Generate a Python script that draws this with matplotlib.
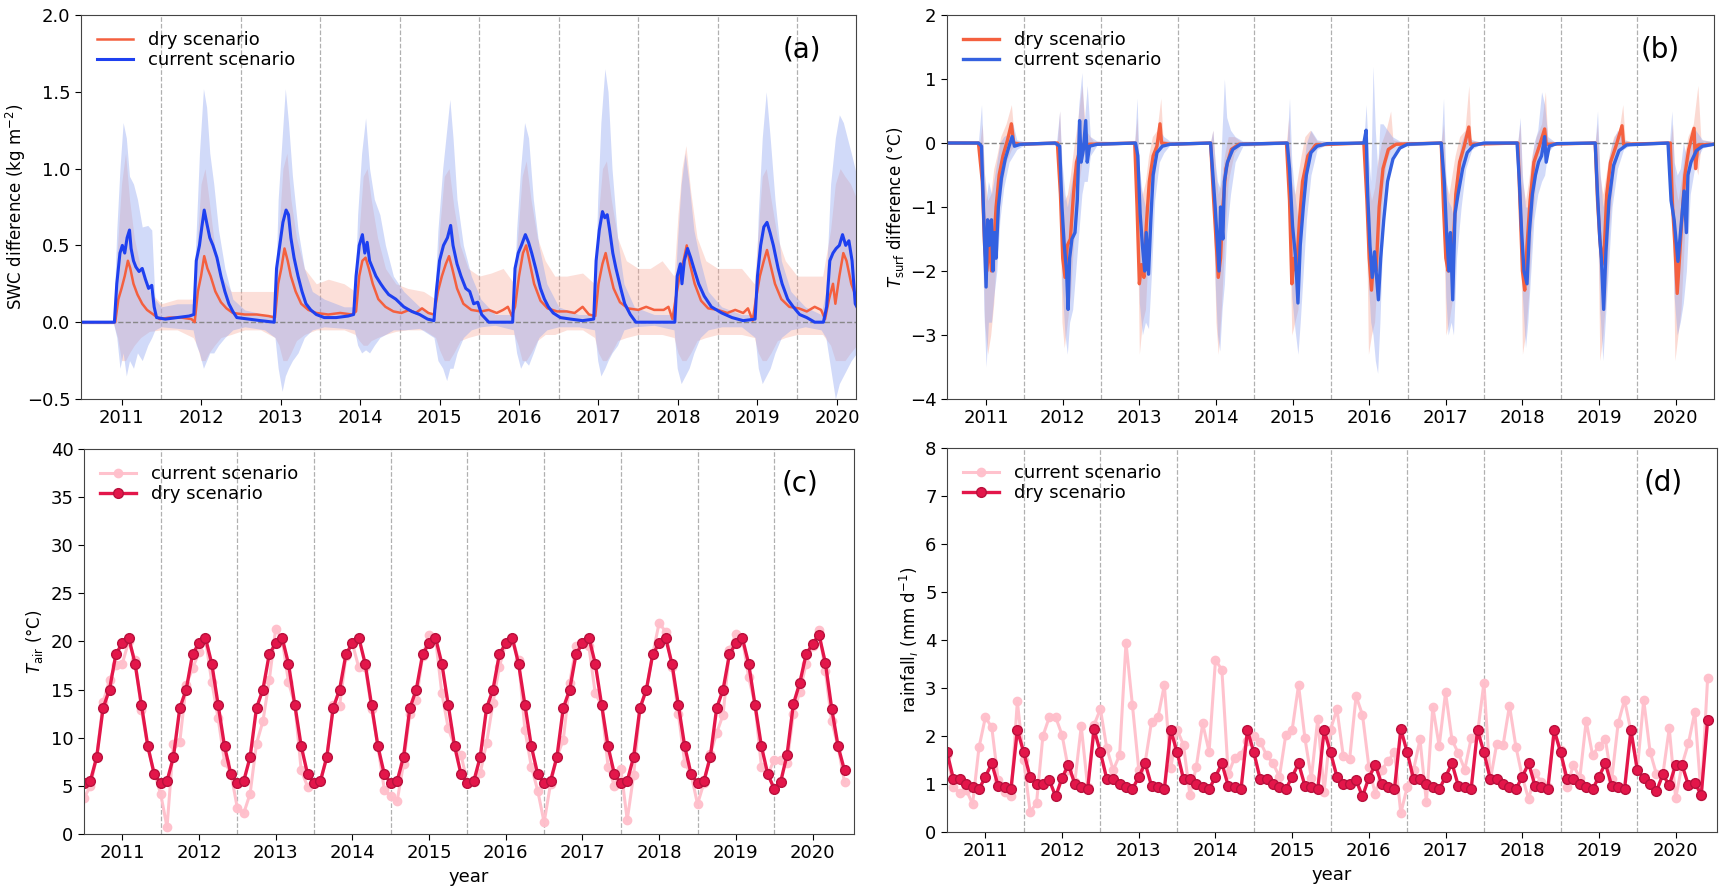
import numpy as np
import pandas as pd
import matplotlib
matplotlib.use("Agg")
import matplotlib.pyplot as plt

# ---------------- panel (a): SWC difference, key points
swc_cur_t = [2010.50, 2010.91, 2010.94, 2010.98, 2011.01, 2011.04, 2011.07, 2011.10, 2011.12, 2011.15,
             2011.18, 2011.22, 2011.26, 2011.30, 2011.34, 2011.38, 2011.41, 2011.44, 2011.55, 2011.70,
             2011.85, 2011.91, 2011.94, 2011.98, 2012.01, 2012.04, 2012.07, 2012.11, 2012.15, 2012.20,
             2012.25, 2012.30, 2012.35, 2012.40, 2012.45, 2012.60, 2012.75, 2012.92, 2012.95, 2012.99,
             2013.03, 2013.07, 2013.10, 2013.13, 2013.17, 2013.22, 2013.27, 2013.32, 2013.38, 2013.45,
             2013.55, 2013.70, 2013.85, 2013.92, 2013.95, 2013.99, 2014.03, 2014.06, 2014.09, 2014.12,
             2014.16, 2014.20, 2014.26, 2014.30, 2014.36, 2014.45, 2014.55, 2014.65, 2014.75, 2014.85,
             2014.93, 2014.96, 2015.00, 2015.05, 2015.10, 2015.14, 2015.17, 2015.22, 2015.27, 2015.33,
             2015.38, 2015.43, 2015.48, 2015.53, 2015.62, 2015.80, 2015.92, 2015.95, 2015.99, 2016.03,
             2016.08, 2016.12, 2016.16, 2016.21, 2016.27, 2016.32, 2016.37, 2016.43, 2016.52, 2016.65,
             2016.80, 2016.94, 2016.97, 2017.01, 2017.05, 2017.08, 2017.11, 2017.14, 2017.18, 2017.22,
             2017.28, 2017.33, 2017.40, 2017.47, 2017.70, 2017.96, 2017.99, 2018.03, 2018.05, 2018.08,
             2018.12, 2018.16, 2018.20, 2018.26, 2018.33, 2018.42, 2018.55, 2018.68, 2018.82, 2018.97,
             2019.00, 2019.04, 2019.08, 2019.12, 2019.16, 2019.20, 2019.26, 2019.31, 2019.38, 2019.45,
             2019.53, 2019.62, 2019.72, 2019.83, 2019.87, 2019.91, 2019.95, 2019.99, 2020.03, 2020.07,
             2020.11, 2020.15, 2020.19, 2020.23, 2020.25]
swc_cur_v = [0.00, 0.00, 0.25, 0.45, 0.50, 0.45, 0.55, 0.60, 0.48, 0.40,
             0.36, 0.33, 0.35, 0.28, 0.22, 0.24, 0.10, 0.03, 0.02, 0.03,
             0.04, 0.05, 0.40, 0.50, 0.62, 0.73, 0.65, 0.55, 0.50, 0.42,
             0.30, 0.20, 0.12, 0.07, 0.03, 0.02, 0.01, 0.00, 0.35, 0.50,
             0.65, 0.73, 0.70, 0.55, 0.42, 0.30, 0.20, 0.12, 0.08, 0.05,
             0.03, 0.03, 0.04, 0.05, 0.30, 0.50, 0.57, 0.45, 0.52, 0.40,
             0.35, 0.30, 0.25, 0.22, 0.18, 0.15, 0.10, 0.07, 0.05, 0.02,
             0.01, 0.20, 0.40, 0.50, 0.55, 0.63, 0.50, 0.38, 0.30, 0.22,
             0.20, 0.12, 0.13, 0.05, 0.00, 0.00, 0.00, 0.35, 0.45, 0.50,
             0.57, 0.52, 0.45, 0.35, 0.22, 0.15, 0.10, 0.06, 0.03, 0.02,
             0.01, 0.02, 0.40, 0.60, 0.72, 0.68, 0.70, 0.60, 0.45, 0.35,
             0.22, 0.12, 0.05, 0.00, 0.00, 0.00, 0.30, 0.38, 0.25, 0.40,
             0.48, 0.42, 0.35, 0.25, 0.17, 0.10, 0.06, 0.03, 0.01, 0.02,
             0.30, 0.50, 0.62, 0.65, 0.58, 0.50, 0.35, 0.25, 0.15, 0.10,
             0.05, 0.03, 0.00, 0.00, 0.10, 0.40, 0.45, 0.48, 0.50, 0.57,
             0.50, 0.53, 0.40, 0.12, 0.10]

swc_dry_t = [2010.50, 2010.92, 2010.96, 2011.00, 2011.04, 2011.08, 2011.11, 2011.15, 2011.20, 2011.26,
             2011.32, 2011.40, 2011.48, 2011.60, 2011.75, 2011.88, 2011.92, 2011.96, 2012.00, 2012.04,
             2012.08, 2012.12, 2012.18, 2012.25, 2012.32, 2012.40, 2012.55, 2012.70, 2012.85, 2012.93,
             2012.97, 2013.01, 2013.05, 2013.09, 2013.13, 2013.19, 2013.26, 2013.35, 2013.45, 2013.60,
             2013.75, 2013.90, 2013.95, 2013.99, 2014.03, 2014.07, 2014.11, 2014.16, 2014.23, 2014.32,
             2014.42, 2014.52, 2014.62, 2014.70, 2014.78, 2014.86, 2014.93, 2014.98, 2015.03, 2015.08,
             2015.12, 2015.16, 2015.22, 2015.30, 2015.40, 2015.52, 2015.62, 2015.72, 2015.80, 2015.86,
             2015.91, 2015.95, 2016.00, 2016.05, 2016.09, 2016.13, 2016.19, 2016.27, 2016.36, 2016.48,
             2016.60, 2016.70, 2016.80, 2016.88, 2016.96, 2017.00, 2017.05, 2017.09, 2017.13, 2017.19,
             2017.27, 2017.37, 2017.50, 2017.60, 2017.70, 2017.82, 2017.88, 2017.93, 2017.97, 2018.02,
             2018.07, 2018.11, 2018.15, 2018.21, 2018.29, 2018.38, 2018.50, 2018.62, 2018.72, 2018.82,
             2018.88, 2018.94, 2018.98, 2019.03, 2019.08, 2019.12, 2019.16, 2019.22, 2019.30, 2019.40,
             2019.52, 2019.62, 2019.72, 2019.80, 2019.85, 2019.90, 2019.95, 2019.98, 2020.03, 2020.08,
             2020.12, 2020.18, 2020.25]
swc_dry_v = [0.00, 0.00, 0.15, 0.22, 0.30, 0.40, 0.35, 0.25, 0.18, 0.12,
             0.08, 0.05, 0.02, 0.03, 0.03, 0.02, 0.00, 0.20, 0.30, 0.43,
             0.35, 0.30, 0.20, 0.13, 0.09, 0.06, 0.05, 0.05, 0.04, 0.03,
             0.25, 0.35, 0.48, 0.40, 0.30, 0.20, 0.12, 0.08, 0.06, 0.05,
             0.06, 0.05, 0.07, 0.30, 0.40, 0.42, 0.35, 0.25, 0.15, 0.10,
             0.07, 0.06, 0.08, 0.06, 0.09, 0.06, 0.05, 0.20, 0.30, 0.38,
             0.43, 0.35, 0.22, 0.12, 0.08, 0.07, 0.08, 0.06, 0.08, 0.10,
             0.04, 0.10, 0.30, 0.45, 0.50, 0.40, 0.25, 0.14, 0.09, 0.07,
             0.07, 0.06, 0.10, 0.05, 0.04, 0.25, 0.38, 0.45, 0.35, 0.22,
             0.13, 0.09, 0.08, 0.10, 0.08, 0.08, 0.10, 0.02, 0.15, 0.30,
             0.40, 0.50, 0.38, 0.25, 0.14, 0.09, 0.08, 0.06, 0.08, 0.06,
             0.09, 0.01, 0.15, 0.30, 0.40, 0.47, 0.38, 0.25, 0.15, 0.10,
             0.09, 0.07, 0.10, 0.08, 0.02, 0.15, 0.25, 0.12, 0.30, 0.45,
             0.40, 0.25, 0.15]

swc_cur_band_t = [2010.50, 2010.90, 2010.94, 2010.98, 2011.02, 2011.06, 2011.10, 2011.15, 2011.20, 2011.26,
                  2011.33, 2011.38, 2011.42, 2011.50, 2011.70, 2011.90, 2011.94, 2011.98, 2012.03, 2012.07,
                  2012.11, 2012.16, 2012.22, 2012.30, 2012.40, 2012.55, 2012.80, 2012.93, 2012.97, 2013.02,
                  2013.06, 2013.10, 2013.15, 2013.22, 2013.30, 2013.40, 2013.55, 2013.80, 2013.93, 2013.97,
                  2014.02, 2014.07, 2014.12, 2014.18, 2014.25, 2014.32, 2014.42, 2014.55, 2014.75, 2014.93,
                  2014.98, 2015.04, 2015.09, 2015.13, 2015.17, 2015.22, 2015.30, 2015.40, 2015.52, 2015.70,
                  2015.93, 2015.97, 2016.02, 2016.07, 2016.12, 2016.18, 2016.25, 2016.35, 2016.50, 2016.75,
                  2016.95, 2016.99, 2017.03, 2017.08, 2017.12, 2017.17, 2017.24, 2017.32, 2017.45, 2017.70,
                  2017.95, 2017.99, 2018.04, 2018.09, 2018.14, 2018.20, 2018.28, 2018.38, 2018.55, 2018.80,
                  2018.97, 2019.01, 2019.06, 2019.11, 2019.16, 2019.22, 2019.30, 2019.42, 2019.60, 2019.80,
                  2019.86, 2019.92, 2019.98, 2020.03, 2020.08, 2020.13, 2020.18, 2020.25]
swc_cur_hi = [0.01, 0.01, 0.60, 1.00, 1.30, 1.20, 0.95, 0.90, 0.80, 0.62,
              0.63, 0.60, 0.15, 0.10, 0.12, 0.12, 0.60, 1.10, 1.52, 1.40,
              1.10, 0.90, 0.60, 0.35, 0.15, 0.08, 0.05, 0.05, 0.80, 1.20,
              1.52, 1.30, 0.95, 0.60, 0.35, 0.20, 0.15, 0.10, 0.10, 0.70,
              1.10, 1.33, 1.00, 0.80, 0.70, 0.50, 0.30, 0.20, 0.10, 0.05,
              0.60, 1.00, 1.25, 1.45, 1.20, 0.80, 0.50, 0.30, 0.15, 0.05,
              0.05, 0.60, 1.00, 1.30, 1.20, 0.80, 0.50, 0.25, 0.10, 0.05,
              0.05, 0.80, 1.30, 1.65, 1.50, 1.00, 0.55, 0.25, 0.10, 0.05,
              0.05, 0.50, 0.90, 1.10, 0.90, 0.60, 0.40, 0.20, 0.10, 0.05,
              0.05, 0.70, 1.20, 1.50, 1.20, 0.80, 0.40, 0.20, 0.10, 0.05,
              0.20, 0.90, 1.20, 1.35, 1.30, 1.20, 1.10, 0.95]
swc_cur_lo = [-0.01, -0.01, -0.10, -0.30, -0.20, -0.35, -0.25, -0.30, -0.20, -0.25,
              -0.15, -0.10, -0.05, -0.03, -0.04, -0.05, -0.15, -0.20, -0.30, -0.25,
              -0.20, -0.20, -0.15, -0.10, -0.05, -0.03, -0.05, -0.10, -0.30, -0.45,
              -0.35, -0.30, -0.25, -0.20, -0.10, -0.05, -0.03, -0.04, -0.05, -0.15,
              -0.20, -0.18, -0.20, -0.15, -0.10, -0.08, -0.05, -0.05, -0.04, -0.10,
              -0.25, -0.30, -0.38, -0.30, -0.30, -0.20, -0.10, -0.05, -0.03, -0.02,
              -0.05, -0.20, -0.30, -0.25, -0.28, -0.20, -0.10, -0.05, -0.03, -0.03,
              -0.05, -0.25, -0.35, -0.30, -0.25, -0.20, -0.15, -0.05, -0.03, -0.02,
              -0.05, -0.30, -0.40, -0.35, -0.30, -0.20, -0.10, -0.05, -0.03, -0.03,
              -0.10, -0.30, -0.40, -0.35, -0.30, -0.20, -0.10, -0.05, -0.03, -0.05,
              -0.10, -0.30, -0.50, -0.40, -0.35, -0.30, -0.25, -0.20]

swc_dry_band_t = [2010.50, 2010.90, 2010.95, 2011.00, 2011.05, 2011.10, 2011.16, 2011.24, 2011.35, 2011.50,
                  2011.70, 2011.90, 2011.95, 2012.00, 2012.05, 2012.10, 2012.17, 2012.25, 2012.38, 2012.55,
                  2012.75, 2012.93, 2012.98, 2013.03, 2013.08, 2013.13, 2013.20, 2013.30, 2013.45, 2013.60,
                  2013.80, 2013.94, 2013.99, 2014.04, 2014.09, 2014.14, 2014.22, 2014.32, 2014.45, 2014.60,
                  2014.80, 2014.95, 2015.00, 2015.06, 2015.12, 2015.18, 2015.26, 2015.36, 2015.50, 2015.65,
                  2015.80, 2015.94, 2015.99, 2016.04, 2016.09, 2016.15, 2016.23, 2016.33, 2016.45, 2016.60,
                  2016.80, 2016.95, 2017.00, 2017.05, 2017.10, 2017.16, 2017.24, 2017.35, 2017.50, 2017.65,
                  2017.80, 2017.95, 2018.00, 2018.05, 2018.10, 2018.16, 2018.24, 2018.35, 2018.50, 2018.65,
                  2018.80, 2018.96, 2019.01, 2019.06, 2019.11, 2019.17, 2019.25, 2019.35, 2019.50, 2019.65,
                  2019.82, 2019.92, 2019.98, 2020.04, 2020.10, 2020.17, 2020.25]
swc_dry_hi = [0.01, 0.01, 0.50, 0.90, 1.10, 0.80, 0.55, 0.35, 0.20, 0.12,
              0.15, 0.15, 0.50, 0.90, 1.00, 0.80, 0.50, 0.30, 0.20, 0.20,
              0.20, 0.20, 0.60, 1.00, 1.10, 0.80, 0.55, 0.35, 0.25, 0.28,
              0.25, 0.20, 0.60, 0.95, 1.00, 0.80, 0.55, 0.35, 0.25, 0.22,
              0.20, 0.15, 0.60, 0.95, 1.00, 0.75, 0.50, 0.35, 0.30, 0.32,
              0.35, 0.25, 0.60, 0.95, 1.05, 0.80, 0.55, 0.40, 0.30, 0.30,
              0.32, 0.25, 0.70, 1.00, 1.05, 0.80, 0.55, 0.40, 0.35, 0.35,
              0.40, 0.30, 0.70, 1.00, 1.15, 0.85, 0.55, 0.40, 0.35, 0.35,
              0.35, 0.25, 0.60, 0.95, 1.00, 0.80, 0.55, 0.40, 0.30, 0.30,
              0.30, 0.60, 0.90, 1.00, 0.95, 0.90, 0.80]
swc_dry_lo = [-0.01, -0.01, -0.10, -0.25, -0.25, -0.20, -0.15, -0.10, -0.06, -0.05,
              -0.05, -0.10, -0.15, -0.25, -0.25, -0.20, -0.15, -0.10, -0.08, -0.05,
              -0.05, -0.10, -0.15, -0.25, -0.25, -0.20, -0.12, -0.08, -0.05, -0.05,
              -0.05, -0.08, -0.12, -0.15, -0.15, -0.12, -0.10, -0.08, -0.06, -0.05,
              -0.05, -0.10, -0.18, -0.25, -0.25, -0.20, -0.12, -0.10, -0.08, -0.08,
              -0.08, -0.08, -0.15, -0.25, -0.25, -0.20, -0.12, -0.08, -0.08, -0.05,
              -0.05, -0.10, -0.20, -0.25, -0.25, -0.20, -0.12, -0.10, -0.08, -0.08,
              -0.08, -0.10, -0.20, -0.25, -0.25, -0.20, -0.12, -0.10, -0.08, -0.08,
              -0.08, -0.10, -0.20, -0.25, -0.25, -0.20, -0.12, -0.10, -0.08, -0.08,
              -0.08, -0.15, -0.25, -0.25, -0.25, -0.20, -0.15]

# ---------------- panel (b): surface temperature difference
ts_cur_t = [2010.50, 2010.90, 2010.94, 2010.97, 2011.00, 2011.02, 2011.04, 2011.07, 2011.09, 2011.11,
            2011.13, 2011.16, 2011.20, 2011.25, 2011.30, 2011.34, 2011.37, 2011.45, 2011.90, 2011.96,
            2011.99, 2012.02, 2012.05, 2012.07, 2012.09, 2012.12, 2012.16, 2012.19, 2012.22, 2012.24,
            2012.27, 2012.30, 2012.32, 2012.35, 2012.45, 2012.95, 2012.98, 2013.01, 2013.04, 2013.07,
            2013.09, 2013.12, 2013.15, 2013.18, 2013.23, 2013.30, 2013.40, 2013.93, 2013.96, 2013.99,
            2014.02, 2014.04, 2014.06, 2014.09, 2014.11, 2014.15, 2014.22, 2014.32, 2014.93, 2014.96,
            2015.00, 2015.04, 2015.07, 2015.10, 2015.14, 2015.18, 2015.24, 2015.32, 2015.45, 2015.93,
            2015.96, 2015.98, 2016.01, 2016.04, 2016.07, 2016.12, 2016.15, 2016.19, 2016.24, 2016.31,
            2016.40, 2016.50, 2016.94, 2016.98, 2017.01, 2017.04, 2017.06, 2017.09, 2017.12, 2017.16,
            2017.22, 2017.28, 2017.36, 2017.50, 2017.93, 2017.96, 2017.99, 2018.02, 2018.06, 2018.09,
            2018.13, 2018.17, 2018.21, 2018.25, 2018.29, 2018.31, 2018.35, 2018.45, 2018.95, 2018.98,
            2019.01, 2019.03, 2019.06, 2019.09, 2019.13, 2019.19, 2019.26, 2019.36, 2019.90, 2019.94,
            2019.98, 2020.03, 2020.07, 2020.11, 2020.14, 2020.16, 2020.20, 2020.27, 2020.35, 2020.50]
ts_cur_v = [0.00, 0.00, -0.05, -1.20, -2.25, -1.20, -1.60, -1.20, -2.00, -1.40,
            -1.80, -1.00, -0.55, -0.25, -0.05, 0.10, -0.05, -0.02, 0.00, -0.05,
            -1.00, -1.60, -2.00, -2.60, -1.80, -1.50, -1.40, -0.90, 0.35, -0.30,
            -0.10, 0.35, -0.30, -0.05, -0.02, 0.00, -0.20, -1.10, -1.60, -2.00,
            -1.40, -2.05, -1.20, -0.50, -0.15, -0.05, -0.02, 0.00, -0.50, -1.00,
            -1.60, -2.00, -1.00, -1.50, -0.60, -0.30, -0.10, -0.02, 0.00, -0.40,
            -1.30, -1.80, -2.50, -1.60, -1.00, -0.50, -0.15, -0.05, -0.01, 0.00,
            0.20, -0.80, -1.60, -2.10, -1.70, -2.45, -1.80, -1.20, -0.60, -0.25,
            -0.08, -0.02, 0.00, -0.60, -1.40, -2.00, -1.40, -2.45, -1.10, -0.80,
            -0.40, -0.15, -0.04, 0.00, 0.00, -0.60, -1.40, -2.00, -2.20, -1.40,
            -0.80, -0.50, -0.30, -0.20, 0.10, -0.30, -0.05, -0.01, 0.00, -0.80,
            -1.50, -1.80, -2.60, -1.70, -0.90, -0.35, -0.12, -0.03, 0.00, -0.90,
            -1.20, -1.85, -1.30, -0.75, -1.40, -0.50, -0.30, -0.12, -0.05, -0.02]

ts_dry_t = [2010.50, 2010.90, 2010.95, 2010.98, 2011.01, 2011.04, 2011.07, 2011.10, 2011.13, 2011.17,
            2011.22, 2011.28, 2011.33, 2011.36, 2011.45, 2011.93, 2011.97, 2012.00, 2012.03, 2012.06,
            2012.10, 2012.14, 2012.18, 2012.24, 2012.35, 2012.94, 2012.97, 2013.00, 2013.03, 2013.06,
            2013.09, 2013.13, 2013.18, 2013.23, 2013.27, 2013.29, 2013.40, 2013.93, 2013.97, 2014.00,
            2014.03, 2014.06, 2014.09, 2014.13, 2014.20, 2014.30, 2014.92, 2014.96, 2014.99, 2015.02,
            2015.05, 2015.09, 2015.13, 2015.20, 2015.30, 2015.93, 2015.97, 2016.00, 2016.03, 2016.06,
            2016.09, 2016.13, 2016.18, 2016.25, 2016.35, 2016.94, 2016.97, 2017.00, 2017.03, 2017.06,
            2017.09, 2017.13, 2017.18, 2017.24, 2017.30, 2017.32, 2017.94, 2017.97, 2018.00, 2018.03,
            2018.06, 2018.10, 2018.15, 2018.22, 2018.29, 2018.31, 2018.95, 2018.98, 2019.01, 2019.04,
            2019.07, 2019.10, 2019.15, 2019.22, 2019.30, 2019.32, 2019.93, 2019.96, 2019.99, 2020.02,
            2020.05, 2020.08, 2020.12, 2020.17, 2020.24, 2020.26, 2020.29, 2020.32, 2020.50]
ts_dry_v = [0.00, 0.00, -0.60, -1.60, -2.00, -1.50, -2.00, -1.60, -1.00, -0.50,
            -0.20, 0.05, 0.30, 0.00, -0.02, 0.00, -0.80, -1.80, -2.10, -1.60,
            -1.50, -0.80, -0.30, -0.05, -0.02, 0.00, -1.00, -2.20, -1.90, -2.10,
            -1.30, -0.60, -0.20, -0.05, 0.30, 0.00, -0.02, 0.00, -0.90, -1.50,
            -2.10, -1.80, -1.00, -0.40, -0.10, -0.02, 0.00, -0.90, -2.20, -1.80,
            -2.00, -1.20, -0.60, -0.20, -0.03, 0.00, -0.90, -1.80, -2.30, -1.80,
            -2.00, -1.00, -0.40, -0.10, -0.02, 0.00, -1.00, -1.80, -2.00, -1.50,
            -1.80, -0.80, -0.30, -0.05, 0.25, -0.02, 0.00, -1.00, -2.00, -2.30,
            -1.60, -0.90, -0.30, -0.05, 0.22, -0.02, 0.00, -0.90, -1.50, -1.90,
            -1.60, -0.80, -0.30, -0.05, 0.27, -0.02, 0.00, -1.00, -1.60, -2.35,
            -1.80, -1.20, -0.50, -0.10, 0.23, -0.40, -0.03, -0.03, -0.02]

ts_cur_band_t = [2010.50, 2010.90, 2010.94, 2010.97, 2011.00, 2011.03, 2011.07, 2011.10, 2011.14, 2011.18,
                 2011.23, 2011.30, 2011.35, 2011.40, 2011.50, 2011.92, 2011.96, 2011.99, 2012.03, 2012.06,
                 2012.09, 2012.13, 2012.17, 2012.21, 2012.25, 2012.28, 2012.32, 2012.36, 2012.45, 2012.94,
                 2012.97, 2013.00, 2013.04, 2013.08, 2013.12, 2013.16, 2013.20, 2013.26, 2013.32, 2013.40,
                 2013.93, 2013.96, 2013.99, 2014.02, 2014.05, 2014.08, 2014.11, 2014.14, 2014.19, 2014.25,
                 2014.35, 2014.93, 2014.96, 2014.99, 2015.03, 2015.07, 2015.10, 2015.14, 2015.18, 2015.24,
                 2015.32, 2015.45, 2015.93, 2015.96, 2015.99, 2016.02, 2016.05, 2016.08, 2016.11, 2016.14,
                 2016.18, 2016.24, 2016.30, 2016.40, 2016.94, 2016.97, 2017.00, 2017.03, 2017.07, 2017.10,
                 2017.14, 2017.20, 2017.26, 2017.34, 2017.45, 2017.94, 2017.97, 2018.00, 2018.04, 2018.07,
                 2018.11, 2018.15, 2018.20, 2018.25, 2018.29, 2018.33, 2018.42, 2018.95, 2018.98, 2019.01,
                 2019.05, 2019.08, 2019.12, 2019.17, 2019.24, 2019.32, 2019.42, 2019.92, 2019.95, 2019.98,
                 2020.02, 2020.06, 2020.10, 2020.14, 2020.19, 2020.26, 2020.35, 2020.50]
ts_cur_hi = [0.02, 0.02, 0.60, -0.30, -0.90, -0.60, -0.80, -0.60, -0.30, 0.00,
             0.10, 0.15, 0.30, 0.05, 0.02, 0.02, 0.50, -0.30, -0.80, -1.00,
             -0.80, -0.50, -0.30, 0.60, 1.10, 0.30, 0.90, 0.10, 0.03, 0.02,
             0.70, -0.40, -0.80, -1.00, -0.80, -0.30, 0.00, 0.20, 0.10, 0.03,
             0.02, 0.20, -0.30, -0.60, -0.70, 0.20, 1.00, 0.40, 0.20, 0.10,
             0.03, 0.02, 0.70, -0.30, -0.80, -1.20, -0.80, -0.40, 0.00, 0.20,
             0.05, 0.02, 0.02, 0.60, -0.20, -0.60, 1.20, 0.20, -0.40, 0.30,
             0.30, 0.20, 0.10, 0.03, 0.02, 0.70, -0.50, -0.90, -1.00, -1.20,
             -0.40, 0.00, 0.20, 0.05, 0.02, 0.02, 0.40, -0.50, -1.00, -1.00,
             -0.40, 0.00, 0.20, 0.80, 0.60, 0.10, 0.02, 0.02, 0.50, -0.40,
             -1.00, -0.80, -0.30, 0.00, 0.20, 0.05, 0.02, 0.02, 0.50, -0.30,
             -0.50, -0.40, 0.00, -0.20, 0.10, 0.20, 0.05, 0.02]
ts_cur_lo = [-0.02, -0.02, -0.60, -2.60, -3.50, -2.80, -2.80, -2.40, -2.00, -1.20,
             -0.70, -0.30, -0.20, -0.10, -0.03, -0.03, -0.50, -2.20, -3.00, -3.30,
             -2.80, -2.60, -2.00, -1.40, -0.80, -0.60, -0.60, -0.20, -0.03, -0.02,
             -0.60, -2.50, -3.00, -2.80, -2.90, -2.00, -0.90, -0.30, -0.15, -0.03,
             -0.02, -0.80, -2.20, -3.00, -3.25, -2.60, -2.20, -1.40, -0.80, -0.30,
             -0.05, -0.02, -0.70, -2.40, -2.90, -3.30, -2.80, -2.00, -1.20, -0.50,
             -0.10, -0.02, -0.02, -0.30, -2.20, -2.80, -3.00, -3.40, -3.60, -2.80,
             -1.40, -0.60, -0.20, -0.05, -0.02, -0.80, -2.40, -3.00, -2.80, -3.00,
             -1.80, -1.00, -0.40, -0.10, -0.02, -0.02, -0.80, -2.40, -3.20, -2.80,
             -2.00, -1.20, -0.80, -0.60, -0.50, -0.15, -0.02, -0.02, -0.80, -2.60,
             -3.40, -2.80, -2.00, -1.00, -0.40, -0.10, -0.02, -0.02, -0.80, -2.40,
             -3.00, -2.80, -2.50, -2.00, -0.80, -0.30, -0.08, -0.03]

ts_dry_band_t = [2010.50, 2010.92, 2010.95, 2010.98, 2011.02, 2011.06, 2011.10, 2011.14, 2011.19, 2011.26,
                 2011.33, 2011.37, 2011.45, 2011.93, 2011.96, 2011.99, 2012.02, 2012.06, 2012.10, 2012.14,
                 2012.19, 2012.25, 2012.30, 2012.40, 2012.94, 2012.97, 2013.00, 2013.04, 2013.08, 2013.12,
                 2013.17, 2013.23, 2013.28, 2013.31, 2013.40, 2013.93, 2013.96, 2014.00, 2014.03, 2014.07,
                 2014.11, 2014.16, 2014.24, 2014.33, 2014.92, 2014.95, 2014.99, 2015.03, 2015.07, 2015.11,
                 2015.16, 2015.23, 2015.32, 2015.93, 2015.96, 2015.99, 2016.03, 2016.07, 2016.11, 2016.16,
                 2016.22, 2016.28, 2016.31, 2016.40, 2016.94, 2016.97, 2017.00, 2017.04, 2017.08, 2017.12,
                 2017.18, 2017.25, 2017.30, 2017.33, 2017.42, 2017.94, 2017.97, 2018.00, 2018.04, 2018.08,
                 2018.12, 2018.18, 2018.25, 2018.30, 2018.33, 2018.42, 2018.95, 2018.98, 2019.01, 2019.05,
                 2019.09, 2019.13, 2019.19, 2019.26, 2019.31, 2019.34, 2019.42, 2019.93, 2019.96, 2019.99,
                 2020.03, 2020.07, 2020.11, 2020.16, 2020.23, 2020.29, 2020.33, 2020.50]
ts_dry_hi = [0.02, 0.02, 0.30, -0.50, -0.90, -0.80, -0.40, -0.20, 0.10, 0.30,
             0.60, 0.05, 0.02, 0.02, 0.50, -0.50, -0.90, -0.80, -0.50, -0.10,
             0.30, 0.90, 0.20, 0.03, 0.02, 0.40, -0.60, -0.80, -0.60, -0.20,
             0.10, 0.20, 0.70, 0.05, 0.02, 0.02, 0.20, -0.50, -0.80, -0.60,
             -0.20, 0.10, 0.10, 0.02, 0.02, 0.40, -0.60, -0.80, -0.50, -0.20,
             0.10, 0.20, 0.03, 0.02, 0.20, -0.60, -0.90, -0.70, -0.30, 0.00,
             0.20, 0.50, 0.05, 0.02, 0.02, 0.30, -0.60, -0.80, -0.50, -0.20,
             0.10, 0.20, 0.90, 0.05, 0.02, 0.02, 0.30, -0.60, -0.90, -0.60,
             -0.20, 0.10, 0.30, 0.80, 0.05, 0.02, 0.02, 0.30, -0.50, -0.80,
             -0.50, -0.20, 0.10, 0.20, 0.60, 0.05, 0.02, 0.02, 0.30, -0.60,
             -0.90, -0.60, -0.20, 0.10, 0.30, 0.90, 0.05, 0.02]
ts_dry_lo = [-0.02, -0.02, -0.80, -2.80, -3.30, -3.00, -2.50, -1.60, -0.80, -0.30,
             -0.10, -0.05, -0.03, -0.02, -0.70, -2.80, -3.20, -2.80, -2.40, -1.60,
             -0.80, -0.30, -0.10, -0.03, -0.02, -0.80, -3.30, -2.80, -2.60, -1.60,
             -0.80, -0.20, -0.05, -0.05, -0.02, -0.02, -0.80, -2.80, -3.30, -2.60,
             -1.60, -0.60, -0.15, -0.03, -0.02, -0.80, -3.00, -2.80, -2.60, -1.60,
             -0.70, -0.20, -0.03, -0.02, -0.80, -3.30, -3.00, -2.80, -2.00, -1.00,
             -0.30, -0.10, -0.05, -0.02, -0.02, -0.90, -3.00, -2.80, -2.50, -1.40,
             -0.50, -0.10, -0.05, -0.05, -0.02, -0.02, -0.90, -3.30, -3.00, -2.40,
             -1.40, -0.50, -0.10, -0.05, -0.05, -0.02, -0.02, -0.90, -3.40, -3.00,
             -2.40, -1.40, -0.50, -0.10, -0.05, -0.05, -0.02, -0.02, -0.90, -3.40,
             -3.00, -2.60, -1.60, -0.60, -0.20, -0.50, -0.05, -0.02]

# ---------------- panels (c), (d): monthly values, Jul 2010 .. Jun 2020
tair_cur = [3.7, 5.0, 8.0, 13.7, 16.0, 17.6, 17.7, 20.0, 18.1, 12.9, 9.0, 6.3,
            4.2, 0.7, 9.4, 9.6, 15.5, 17.2, 18.9, 20.3, 15.8, 12.0, 7.5, 6.3,
            2.7, 2.15, 4.2, 9.4, 11.7, 16.0, 21.3, 20.3, 15.8, 13.4, 6.6, 4.9,
            5.3, 5.5, 8.0, 13.4, 13.3, 18.5, 19.8, 17.3, 17.4, 13.0, 9.1, 4.6,
            3.9, 3.4, 7.3, 12.5, 13.9, 18.5, 20.7, 20.4, 14.6, 11.0, 9.1, 8.2,
            5.3, 5.4, 6.3, 9.5, 13.6, 17.4, 19.8, 20.4, 18.1, 10.8, 7.0, 4.5,
            1.2, 5.2, 8.0, 9.8, 15.7, 19.5, 19.8, 19.5, 14.6, 13.4, 7.0, 5.0,
            6.8, 1.45, 6.1, 13.0, 15.0, 18.7, 21.95, 21.0, 17.4, 12.5, 7.4, 6.2,
            3.1, 5.3, 8.3, 10.5, 12.4, 19.1, 20.8, 20.4, 16.3, 13.4, 7.0, 6.2,
            7.7, 7.7, 7.4, 12.5, 14.8, 17.7, 19.5, 21.2, 16.9, 11.7, 9.0, 5.4]
tair_dry = [5.3, 5.5, 8.0, 13.1, 15.0, 18.7, 19.8, 20.4, 17.7, 13.4, 9.1, 6.2,
            5.3, 5.5, 8.0, 13.1, 15.0, 18.7, 19.8, 20.4, 17.7, 13.4, 9.1, 6.2,
            5.3, 5.5, 8.0, 13.1, 15.0, 18.7, 19.8, 20.4, 17.7, 13.4, 9.1, 6.2,
            5.3, 5.5, 8.0, 13.1, 15.0, 18.7, 19.8, 20.4, 17.7, 13.4, 9.1, 6.2,
            5.3, 5.5, 8.0, 13.1, 15.0, 18.7, 19.8, 20.4, 17.7, 13.4, 9.1, 6.2,
            5.3, 5.5, 8.0, 13.1, 15.0, 18.7, 19.8, 20.4, 17.7, 13.4, 9.1, 6.2,
            5.3, 5.5, 8.0, 13.1, 15.0, 18.7, 19.8, 20.4, 17.7, 13.4, 9.1, 6.2,
            5.3, 5.5, 8.0, 13.1, 15.0, 18.7, 19.8, 20.4, 17.7, 13.4, 9.1, 6.2,
            5.3, 5.5, 8.0, 13.1, 15.0, 18.7, 19.8, 20.4, 17.7, 13.4, 9.1, 6.2,
            4.7, 5.4, 8.2, 13.5, 15.7, 18.7, 19.7, 20.7, 17.8, 13.0, 9.1, 6.6]

rain_cur = [1.60, 0.94, 0.81, 0.88, 0.58, 1.76, 2.39, 2.18, 1.08, 0.84, 0.74, 2.72,
            1.50, 0.42, 0.60, 2.00, 2.39, 2.39, 2.02, 1.30, 1.05, 2.20, 0.94, 2.23,
            2.56, 1.74, 1.29, 1.60, 3.94, 2.65, 1.30, 1.45, 2.30, 2.39, 3.06, 1.33,
            2.13, 1.81, 0.77, 1.36, 2.26, 1.67, 3.58, 3.38, 1.20, 1.55, 1.60, 1.90,
            1.99, 1.88, 1.60, 1.43, 1.15, 2.02, 2.13, 3.06, 1.95, 1.12, 2.35, 0.84,
            2.13, 2.56, 1.58, 1.53, 2.83, 2.44, 1.36, 0.79, 1.30, 1.47, 1.67, 0.39,
            0.94, 1.30, 1.93, 0.62, 2.61, 1.79, 2.91, 1.92, 1.64, 1.30, 1.95, 2.05,
            3.11, 1.08, 1.83, 1.81, 2.63, 1.78, 1.15, 0.68, 1.22, 1.05, 0.94, 2.10,
            1.70, 0.94, 1.40, 1.12, 2.31, 1.60, 1.79, 1.93, 1.10, 2.26, 2.75, 2.10,
            1.30, 2.75, 1.67, 1.20, 1.20, 2.16, 0.70, 1.40, 1.85, 2.50, 0.74, 3.20]
rain_dry = [1.66, 1.10, 1.10, 1.00, 0.94, 0.89, 1.15, 1.43, 0.96, 0.94, 0.89, 2.12,
            1.66, 1.15, 1.00, 1.00, 1.08, 0.74, 1.13, 1.40, 1.00, 0.94, 0.89, 2.14,
            1.66, 1.10, 1.10, 1.00, 0.94, 0.89, 1.15, 1.43, 0.96, 0.94, 0.89, 2.12,
            1.66, 1.10, 1.10, 1.00, 0.94, 0.89, 1.15, 1.43, 0.96, 0.94, 0.89, 2.12,
            1.66, 1.10, 1.10, 1.00, 0.94, 0.89, 1.15, 1.43, 0.96, 0.94, 0.89, 2.12,
            1.66, 1.15, 1.00, 1.00, 1.08, 0.74, 1.13, 1.40, 1.00, 0.94, 0.89, 2.14,
            1.66, 1.10, 1.10, 1.00, 0.94, 0.89, 1.15, 1.43, 0.96, 0.94, 0.89, 2.12,
            1.66, 1.10, 1.10, 1.00, 0.94, 0.89, 1.15, 1.43, 0.96, 0.94, 0.89, 2.12,
            1.66, 1.10, 1.10, 1.00, 0.94, 0.89, 1.15, 1.43, 0.96, 0.94, 0.89, 2.12,
            1.29, 1.12, 1.00, 0.85, 1.20, 0.97, 1.40, 1.40, 0.97, 1.03, 0.77, 2.33]

years = list(range(2011, 2021))
mid_year_lines = [y + 0.5 for y in range(2011, 2020)]

months = pd.date_range("2010-07-01", periods=len(tair_dry), freq="MS")
t_month = months.year + (months.month - 1) / 12.0

DRY = "#f4603f"
CUR = "#1e40f0"
CUR_B = "#3461e0"
DRY_M = "#e3164a"
CUR_M = "#ffbfcb"

plt.rcParams["font.family"] = "DejaVu Sans"
fig = plt.figure(figsize=(17.2, 8.88), dpi=100)

ax_a = fig.add_axes([0.0471, 0.5507, 0.4506, 0.4324])
ax_b = fig.add_axes([0.5506, 0.5507, 0.4459, 0.4324])
ax_c = fig.add_axes([0.0488, 0.0608, 0.4477, 0.4336])
ax_d = fig.add_axes([0.5506, 0.0631, 0.4477, 0.4324])


def decorate(ax, xlim, ylim, yticks, letter, label_x):
    ax.set_xlim(*xlim)
    ax.set_ylim(*ylim)
    ax.set_xticks(years)
    ax.set_yticks(yticks)
    ax.tick_params(labelsize=13, length=4)
    for x in mid_year_lines:
        ax.axvline(x, color="#b0b0b0", ls="--", lw=0.9, zorder=0)
    ax.text(0.93, 0.91, letter, transform=ax.transAxes, fontsize=20,
            ha="center", va="center")
    for s in ax.spines.values():
        s.set_color("#444444")
    ax.yaxis.set_label_coords(label_x, 0.5)
    ax.legend(loc="upper left", frameon=False, fontsize=13, handlelength=2.0,
              labelspacing=0.12)


# (a)
ax_a.fill_between(swc_dry_band_t, swc_dry_lo, swc_dry_hi, color="#f7a493", alpha=0.35, lw=0)
ax_a.fill_between(swc_cur_band_t, swc_cur_lo, swc_cur_hi, color="#8ea3f0", alpha=0.4, lw=0)
ax_a.axhline(0, color="#888888", ls="--", lw=1)
ax_a.plot(swc_dry_t, swc_dry_v, color=DRY, lw=1.8, label="dry scenario")
ax_a.plot(swc_cur_t, swc_cur_v, color=CUR, lw=2.2, label="current scenario")
ax_a.set_ylabel(r"SWC difference (kg m$^{-2}$)", fontsize=12)
decorate(ax_a, (2010.49, 2020.24), (-0.5, 2.0), np.arange(-0.5, 2.01, 0.5), "(a)", -0.068)

# (b)
ax_b.fill_between(ts_dry_band_t, ts_dry_lo, ts_dry_hi, color="#f7a493", alpha=0.4, lw=0)
ax_b.fill_between(ts_cur_band_t, ts_cur_lo, ts_cur_hi, color="#8ea3f0", alpha=0.4, lw=0)
ax_b.axhline(0, color="#888888", ls="--", lw=1)
ax_b.plot(ts_dry_t, ts_dry_v, color=DRY, lw=2.4, label="dry scenario")
ax_b.plot(ts_cur_t, ts_cur_v, color=CUR_B, lw=2.4, label="current scenario")
ax_b.set_ylabel(r"$T_{\rm surf}$ difference (°C)", fontsize=12)
decorate(ax_b, (2010.49, 2020.5), (-4, 2), np.arange(-4, 3, 1), "(b)", -0.054)

# (c)
ax_c.plot(t_month, tair_cur, color=CUR_M, lw=2.2, marker="o", ms=6, alpha=0.95,
          label="current scenario")
ax_c.plot(t_month, tair_dry, color=DRY_M, lw=2.4, marker="o", ms=7,
          mec="#b8103c", label="dry scenario")
ax_c.set_ylabel(r"$T_{\rm air}$ (°C)", fontsize=12)
ax_c.set_xlabel("year", fontsize=13)
decorate(ax_c, (2010.5, 2020.54), (0, 40), np.arange(0, 41, 5), "(c)", -0.05)

# (d)
ax_d.plot(t_month, rain_cur, color=CUR_M, lw=2.2, marker="o", ms=6, alpha=0.95,
          label="current scenario")
ax_d.plot(t_month, rain_dry, color=DRY_M, lw=2.4, marker="o", ms=7,
          mec="#b8103c", label="dry scenario")
ax_d.set_ylabel(r"rainfall$_{\imath}$ (mm d$^{-1}$)", fontsize=12)
ax_d.set_xlabel("year", fontsize=13)
decorate(ax_d, (2010.5, 2020.54), (0, 8), np.arange(0, 9, 1), "(d)", -0.034)

fig.savefig("out.png", dpi=100)
